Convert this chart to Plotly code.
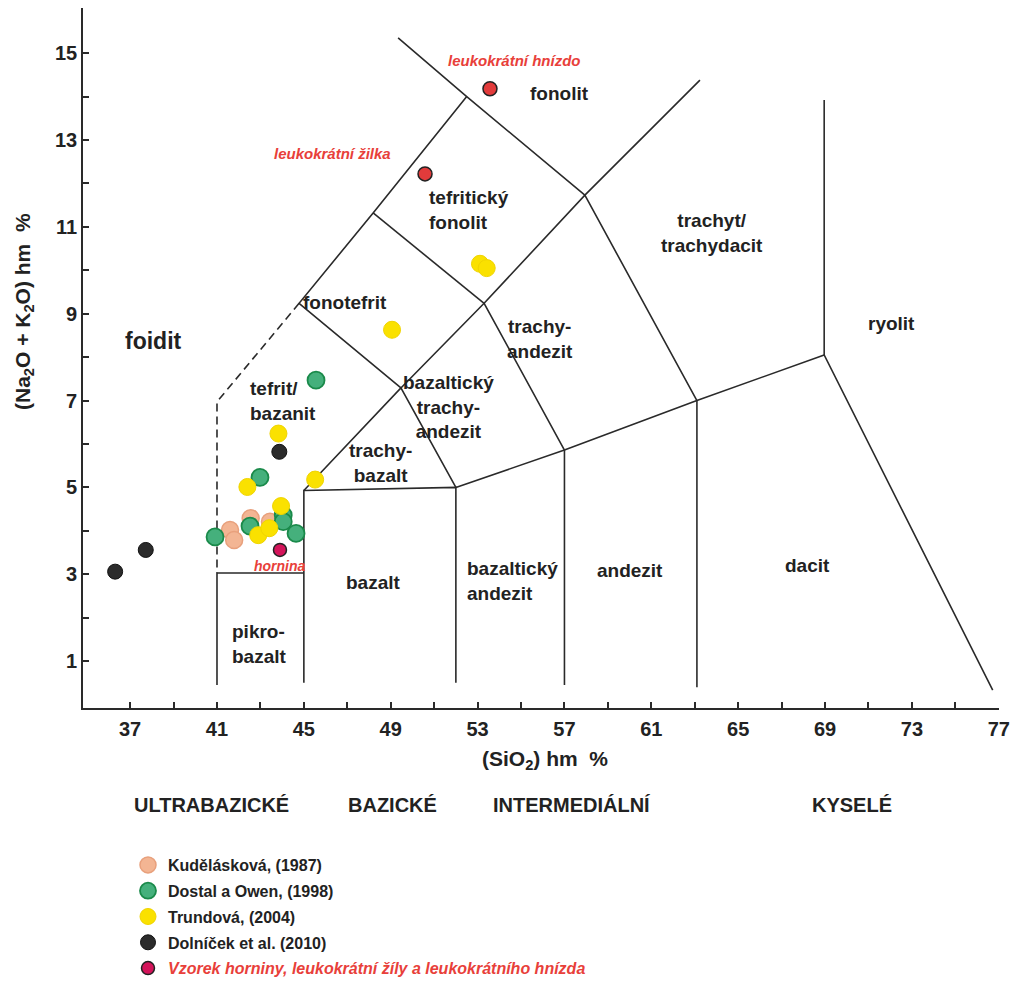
import plotly.graph_objects as go

# ---------------- data ----------------
kud_x = [41.6, 41.79, 42.55, 43.44]
kud_y = [4.02, 3.79, 4.29, 4.21]

dost_x = [40.91, 42.52, 42.98, 44.05, 44.05, 44.64, 45.56]
dost_y = [3.86, 4.11, 5.23, 4.36, 4.21, 3.94, 7.47]

trun_x = [42.4, 42.9, 43.41, 43.83, 43.95, 45.52, 49.06, 53.11, 53.42]
trun_y = [5.01, 3.9, 4.06, 6.24, 4.57, 5.18, 8.63, 10.15, 10.05]

doln_x = [36.31, 37.72, 43.87]
doln_y = [3.06, 3.56, 5.82]

vzorek_x = [43.9]
vzorek_y = [3.56]

leuko_x = [50.58, 53.57]
leuko_y = [12.22, 14.18]

# TAS field boundaries (SiO2, Na2O+K2O)
boundaries = [
    [(41, 0.45), (41, 3.03), (45, 3.03)],
    [(45, 0.5), (45, 4.93), (52, 5.0), (52, 0.5)],
    [(52, 5.0), (57, 5.86), (63.1, 7.0), (68.96, 8.05), (76.72, 0.33)],
    [(57, 5.86), (57, 0.45)],
    [(63.1, 7.0), (63.1, 0.4)],
    [(45, 4.93), (49.47, 7.29), (52, 5.0)],
    [(49.47, 7.29), (53.3, 9.24), (57, 5.86)],
    [(53.3, 9.24), (57.94, 11.73), (63.1, 7.0)],
    [(57.94, 11.73), (63.24, 14.38)],
    [(57.94, 11.73), (52.5, 14.0), (49.34, 15.35)],
    [(52.5, 14.0), (48.19, 11.32), (44.78, 9.24), (49.47, 7.29)],
    [(48.19, 11.32), (53.3, 9.24)],
    [(68.96, 8.05), (68.96, 13.92)],
]
dashed_boundary = [(44.78, 9.24), (41, 6.97), (41, 3.03)]

x_tick_vals = [37, 41, 45, 49, 53, 57, 61, 65, 69, 73, 77]
x_minor_vals = [39, 43, 47, 51, 55, 59, 63, 67, 71, 75]
y_tick_vals = [1, 3, 5, 7, 9, 11, 13, 15]
y_minor_vals = [2, 4, 6, 8, 10, 12, 14]

field_names = ["foidit", "tefrit/<br>bazanit", "fonotefrit", "tefritický<br>fonolit", "fonolit",
               "trachyt/<br>trachydacit", "ryolit", "trachy-<br>andezit",
               "bazaltický<br>trachy-<br>andezit", "trachy-<br>bazalt", "bazalt",
               "bazaltický<br>andezit", "andezit", "dacit", "pikro-<br>bazalt"]
group_names = ["ULTRABAZICKÉ", "BAZICKÉ", "INTERMEDIÁLNÍ", "KYSELÉ"]
legend_names = ["Kudělásková, (1987)", "Dostal a Owen, (1998)", "Trundová, (2004)",
                "Dolníček et al. (2010)",
                "Vzorek horniny, leukokrátní žíly a leukokrátního hnízda"]

# ---------------- figure ----------------
W, H = 1013, 992
L, T = 83, 8
R = W - 999
B = H - 708
PW, PH = W - L - R, H - T - B

def px_x(px):
    return (px - L) / PW

def px_y(py):
    return (H - B - py) / PH

FONT = "Liberation Sans, Arial, sans-serif"
LINE_C = "#2a2a2a"
RED_T = "#e8403a"
TXT_C = "#222222"

fig = go.Figure()

for seg in boundaries:
    fig.add_trace(go.Scatter(x=[p[0] for p in seg], y=[p[1] for p in seg], mode="lines",
                             line=dict(color=LINE_C, width=1.6), showlegend=False,
                             hoverinfo="skip"))
fig.add_trace(go.Scatter(x=[p[0] for p in dashed_boundary], y=[p[1] for p in dashed_boundary],
                         mode="lines", line=dict(color=LINE_C, width=1.6, dash="8px,5px"),
                         showlegend=False, hoverinfo="skip"))

series = [
    (kud_x, kud_y, legend_names[0], "#f3b593", "#e8a07c", 17, 1.5, True),
    (dost_x, dost_y, legend_names[1], "#45b07c", "#1a8a4a", 17, 1.8, True),
    (trun_x, trun_y, legend_names[2], "#fae100", "#f0d400", 17, 1.0, True),
    (doln_x, doln_y, legend_names[3], "#2b2b2b", "#111111", 15, 1.0, True),
    (vzorek_x, vzorek_y,
     '<i><span style="color:%s">%s</span></i>' % (RED_T, legend_names[4]),
     "#d4145a", "#222222", 13, 1.5, True),
    (leuko_x, leuko_y, "leuko", "#e23b3b", "#222222", 14, 1.5, False),
]
for i, (xs, ys, nm, fc, lc, sz, lw, sl) in enumerate(series):
    fig.add_trace(go.Scatter(x=xs, y=ys, mode="markers", name=nm, showlegend=sl,
                             legendgroup="g%d" % i,
                             marker=dict(color=fc, size=sz, line=dict(color=lc, width=lw))))

# field labels (data coords)
label_pos = [
    (38.06, 8.37, "center", 23), (42.43, 6.99, "left", 19), (46.9, 9.26, "center", 19),
    (50.67, 11.39, "left", 19), (56.75, 14.08, "center", 19), (63.79, 10.86, "center", 19),
    (72.07, 8.78, "center", 19), (55.87, 8.42, "center", 19), (51.64, 6.85, "center", 19),
    (48.55, 5.56, "center", 19), (48.19, 2.82, "center", 19), (52.42, 2.84, "left", 19),
    (60.01, 3.09, "center", 19), (68.2, 3.21, "center", 19), (41.6, 1.39, "left", 19),
]
for name, (x, y, al, sz) in zip(field_names, label_pos):
    fig.add_annotation(x=x, y=y, text=name, showarrow=False, xanchor=al, yanchor="middle",
                       align=al, font=dict(family=FONT, size=sz, color=TXT_C, weight="bold"))

red_labels = [("hornina", 43.9, 3.19, 14), ("leukokrátní žilka", 46.3, 12.68, 15),
              ("leukokrátní hnízdo", 54.72, 14.83, 15)]
for t, x, y, sz in red_labels:
    fig.add_annotation(x=x, y=y, text="<i>%s</i>" % t, showarrow=False,
                       xanchor="center", yanchor="middle",
                       font=dict(family=FONT, size=sz, color=RED_T, weight="bold"))

# axis titles
fig.add_annotation(xref="paper", yref="paper", x=px_x(545), y=px_y(760),
                   xanchor="center", yanchor="middle",
                   text="(SiO<sub>2</sub>) hm  %", showarrow=False,
                   font=dict(family=FONT, size=21, color=TXT_C, weight="bold"))
fig.add_annotation(xref="paper", yref="paper", x=px_x(24), y=px_y(312), textangle=-90,
                   xanchor="center", yanchor="middle",
                   text="(Na<sub>2</sub>O + K<sub>2</sub>O) hm  %", showarrow=False,
                   font=dict(family=FONT, size=21, color=TXT_C, weight="bold"))

for name, cx in zip(group_names, [211, 392, 571, 852]):
    fig.add_annotation(xref="paper", yref="paper", x=px_x(cx), y=px_y(805), text=name,
                       xanchor="center", yanchor="middle", showarrow=False,
                       font=dict(family="Liberation Sans Narrow, Arial Narrow, Liberation Sans",
                                 size=20, color=TXT_C, weight="bold"))

axis_font = dict(family=FONT, size=20, color=TXT_C, weight="bold")
fig.update_xaxes(range=[34.83, 77.01], tickvals=x_tick_vals, ticks="inside", ticklen=6,
                 tickwidth=1.5, tickcolor=LINE_C, showline=True, linecolor=LINE_C, linewidth=1.6,
                 showgrid=False, zeroline=False, tickfont=axis_font, ticklabelstandoff=2,
                 minor=dict(tickvals=x_minor_vals, ticks="inside", ticklen=6, tickwidth=1.5,
                            tickcolor=LINE_C, showgrid=False))
fig.update_yaxes(range=[-0.08, 16.04], tickvals=y_tick_vals, ticks="inside", ticklen=6,
                 tickwidth=1.5, tickcolor=LINE_C, showline=True, linecolor=LINE_C, linewidth=1.6,
                 showgrid=False, zeroline=False, tickfont=axis_font,
                 minor=dict(tickvals=y_minor_vals, ticks="inside", ticklen=6, tickwidth=1.5,
                            tickcolor=LINE_C, showgrid=False))

fig.update_layout(
    width=W, height=H, margin=dict(l=L, r=R, t=T, b=B, autoexpand=False),
    paper_bgcolor="white", plot_bgcolor="white",
    legend=dict(x=px_x(128), y=px_y(848), xanchor="left", yanchor="top",
                font=dict(family=FONT, size=16, color=TXT_C, weight="bold"),
                tracegroupgap=2, itemsizing="trace", bgcolor="rgba(0,0,0,0)"),
    showlegend=True,
)

fig.write_html("out.html", config={"displayModeBar": False},
               post_script="document.body.style.margin='0';document.body.style.overflow='hidden';")
